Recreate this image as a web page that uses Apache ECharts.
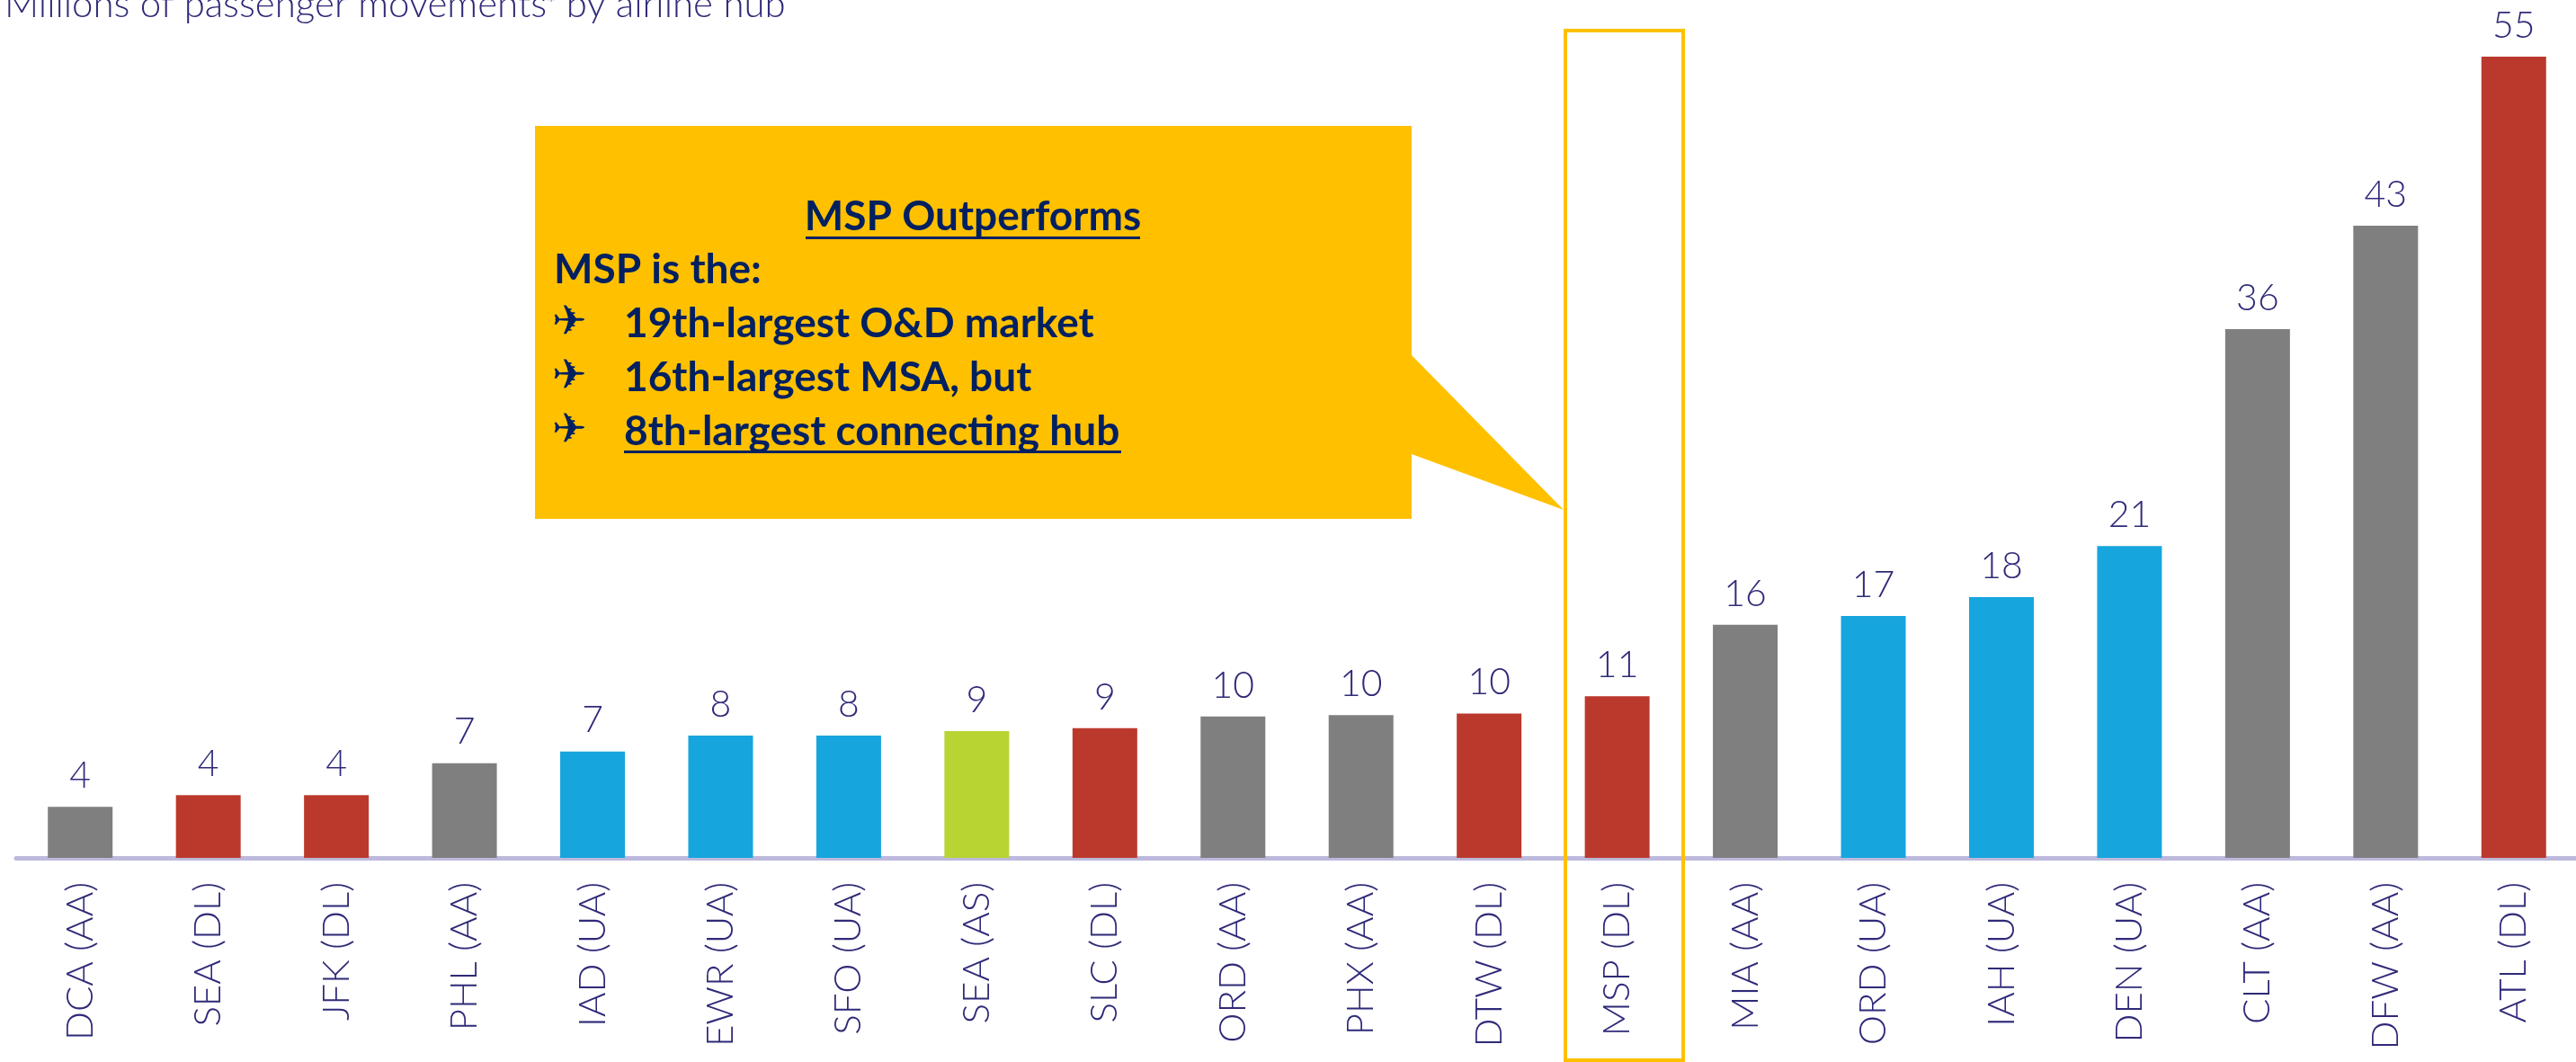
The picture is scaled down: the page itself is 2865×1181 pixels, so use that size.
<!DOCTYPE html>
<html>
<head>
<meta charset="utf-8">
<title>Passenger movements by airline hub</title>
<script src="https://cdn.jsdelivr.net/npm/echarts@6/dist/echarts.min.js"></script>
<style>
html,body{margin:0;padding:0;background:#fff;}
#main{width:2865px;height:1181px;}
</style>
</head>
<body>
<div id="main"></div>
<script>
var categories = ['DCA (AA)','SEA (DL)','JFK (DL)','PHL (AA)','IAD (UA)','EWR (UA)','SFO (UA)','SEA (AS)','SLC (DL)','ORD (AA)',
    'PHX (AA)','DTW (DL)','MSP (DL)','MIA (AA)','ORD (UA)','IAH (UA)','DEN (UA)','CLT (AA)','DFW (AA)','ATL (DL)'];
var movements = [3.5,4.3,4.3,6.5,7.3,8.4,8.4,8.7,8.9,9.7,9.8,9.9,11.1,16,16.6,17.9,21.4,36.3,43.4,55];
var carriers = ['AA','DL','DL','AA','UA','UA','UA','AS','DL','AA','AA','DL','DL','AA','UA','UA','UA','AA','AA','DL'];
var carrierColors = {AA:'#7f7f7f',DL:'#bb392c',UA:'#17a5de',AS:'#b7d433'};

var titleStart = 'Millions of passenger movements';
var titleEnd = ' by airline hub';
var calloutTitle = 'MSP Outperforms';
var calloutLead = 'MSP is the:';
var calloutItems = ['19th-largest O&D market','16th-largest MSA, but','8th-largest connecting hub'];

var inkColor = '#2f2a78';
var navy = '#002060';
var amber = '#ffc000';
var chartFont = 'Lato';

function calloutText(x, y, text, align){
    return {type:'text',z:20,style:{x:x,y:y,text:text,fill:navy,font:'bold 46px Lato',textAlign:align || 'left',textVerticalAlign:'middle'}};
}
function planeIcon(y){
    return {type:'text',z:20,style:{x:614,y:y,text:'\u2708',fill:navy,font:'46px "DejaVu Sans"',textAlign:'left',textVerticalAlign:'middle'}};
}

var annotations = [
    // MSP highlight frame
    {type:'rect',z:15,shape:{x:1741,y:34,width:131,height:1145},style:{fill:'none',stroke:amber,lineWidth:4}},
    // callout with its pointer
    {type:'polygon',z:18,shape:{points:[[595,140],[1570,140],[1570,395],[1739,567],[1570,505],[1570,577],[595,577]]},style:{fill:amber}},
    calloutText(1082,241,calloutTitle,'center'),
    {type:'rect',z:20,shape:{x:896,y:263,width:372,height:3},style:{fill:navy}},
    calloutText(616,300,calloutLead)
];
for(var i=0;i<calloutItems.length;i++){
    annotations.push(planeIcon(360+i*60));
    annotations.push(calloutText(694,360+i*60,calloutItems[i]));
}
annotations.push({type:'rect',z:20,shape:{x:694,y:501,width:553,height:3},style:{fill:navy}});

var option = {
    animation:false,
    backgroundColor:'#fff',
    title:{
        text:'{a|'+titleStart+'}{b|*}{a|'+titleEnd+'}',
        left:0,
        top:-21,
        textStyle:{
            rich:{
                a:{fontFamily:chartFont,fontSize:42,fontWeight:300,color:inkColor},
                b:{fontFamily:chartFont,fontSize:24,fontWeight:300,color:inkColor}
            }
        }
    },
    grid:{left:18,top:63,width:2849,height:891,containLabel:false,outerBoundsMode:'none'},
    xAxis:{
        type:'category',
        data:categories,
        offset:2,
        axisLine:{show:true,lineStyle:{color:'#bdb9dd',width:5}},
        axisTick:{show:false},
        axisLabel:{
            interval:0,
            rotate:90,
            margin:25,
            fontFamily:chartFont,
            fontWeight:300,
            fontSize:42,
            color:inkColor
        }
    },
    yAxis:{type:'value',min:0,max:55,show:false,splitLine:{show:false}},
    series:[{
        type:'bar',
        barWidth:72,
        data:movements.map(function(v,i){
            return {value:v,itemStyle:{color:carrierColors[carriers[i]]}};
        }),
        label:{
            show:true,
            position:'top',
            distance:14,
            fontFamily:chartFont,
            fontWeight:300,
            fontSize:41,
            color:inkColor,
            formatter:function(p){ return Math.round(p.value); }
        }
    }],
    graphic:annotations
};

var myChart = echarts.init(document.getElementById('main'));
myChart.setOption(option);
</script>
</body>
</html>
